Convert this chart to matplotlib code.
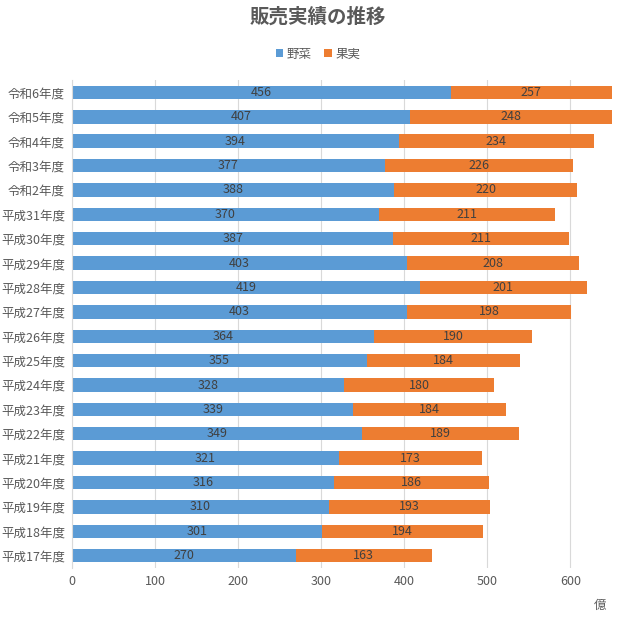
import matplotlib
matplotlib.use('Agg')
import matplotlib.pyplot as plt
import numpy as np

plt.rcParams['font.family'] = ['Noto Sans CJK JP', 'DejaVu Sans']

# data (bottom to top)
years = ['平成17年度', '平成18年度', '平成19年度', '平成20年度', '平成21年度',
         '平成22年度', '平成23年度', '平成24年度', '平成25年度', '平成26年度',
         '平成27年度', '平成28年度', '平成29年度', '平成30年度', '平成31年度',
         '令和2年度', '令和3年度', '令和4年度', '令和5年度', '令和6年度']
vegetables = [270, 301, 310, 316, 321, 349, 339, 328, 355, 364,
              403, 419, 403, 387, 370, 388, 377, 394, 407, 456]
fruits = [163, 194, 193, 186, 173, 189, 184, 180, 184, 190,
          198, 201, 208, 211, 211, 220, 226, 234, 248, 257]
series_names = ['野菜', '果実']

blue = '#5B9BD5'
orange = '#ED7D31'
text_col = '#595959'

fig = plt.figure(figsize=(6.36, 6.22), dpi=100)
ax = fig.add_axes([0.113, 0.087, 0.849, 0.784])

y = np.arange(len(years))
b1 = ax.barh(y, vegetables, height=0.55, color=blue, label=series_names[0], zorder=2)
b2 = ax.barh(y, fruits, left=vegetables, height=0.55, color=orange, label=series_names[1], zorder=2)

ax.bar_label(b1, label_type='center', fontsize=9, color='#404040')
ax.bar_label(b2, label_type='center', fontsize=9, color='#404040')

ax.set_xlim(0, 650)
ax.set_ylim(-0.5, len(years) - 0.5)
ax.set_xticks(range(0, 700, 100))
ax.set_yticks(y)
ax.set_yticklabels(years)
ax.tick_params(axis='both', length=0, labelsize=9, colors=text_col)
ax.tick_params(axis='x', pad=5)
ax.tick_params(axis='y', pad=5)
ax.xaxis.grid(True, color='#D9D9D9', linewidth=0.8, zorder=0)
ax.set_axisbelow(True)
for s in ['top', 'right', 'bottom']:
    ax.spines[s].set_visible(False)
ax.spines['left'].set_color('#D9D9D9')

fig.text(0.5, 0.972, '販売実績の推移', ha='center', va='center',
         fontsize=14, fontweight='bold', color=text_col)
fig.legend(loc='center', bbox_to_anchor=(0.5, 0.913), ncol=2, frameon=False,
           fontsize=9, labelcolor=text_col, handlelength=0.6, handleheight=0.6,
           handletextpad=0.3, columnspacing=1.0)
fig.text(0.944, 0.027, '億', ha='center', va='center', fontsize=9, color=text_col)

fig.savefig('out.png', dpi=100)
